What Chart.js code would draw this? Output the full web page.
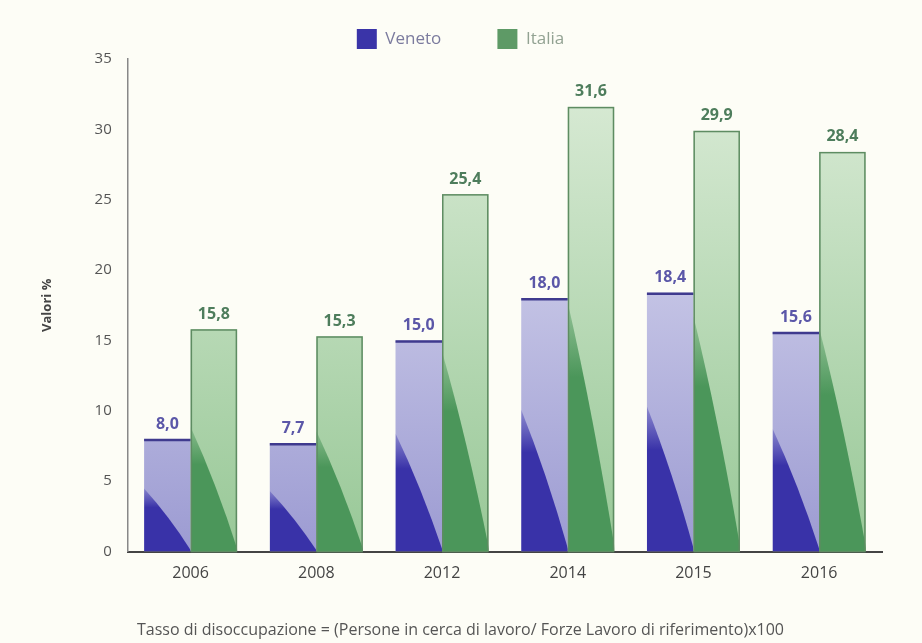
<!DOCTYPE html>
<html>
<head>
<meta charset="utf-8">
<script src="https://cdn.jsdelivr.net/npm/chart.js@4/dist/chart.umd.min.js"></script>
<style>
  html, body { margin: 0; padding: 0; background: #fdfdf6; }
  #wrap { width: 922px; height: 643px; }
</style>
</head>
<body>
<div id="wrap"><canvas id="c" width="922" height="643"></canvas></div>
<script>
// Tasso di disoccupazione giovanile, valori %
const years = ['2006', '2008', '2012', '2014', '2015', '2016'];
const veneto = [8.0, 7.7, 15.0, 18.0, 18.4, 15.6];
const italia = [15.8, 15.3, 25.4, 31.6, 29.9, 28.4];
const yTicks = [0, 5, 10, 15, 20, 25, 30, 35];

const FONT = '"Open Sans", "Noto Sans", sans-serif';

const palette = {
  veneto: { top: '#e6e6f5', bottom: '#9c9bd2', dark: '#3932a8', darkTop: 'rgba(70,64,178,0.35)', edge: '#3f3a8e', label: '#5b57a8' },
  italia: { top: '#dcecd8', bottom: '#98c897', dark: '#4b965a', darkTop: 'rgba(80,152,94,0.35)', edge: '#5e8c62', label: '#4e7d5c' }
};

function verticalFill(key) {
  return function (ctx) {
    const area = ctx.chart.chartArea;
    if (!area) return palette[key].bottom;
    const g = ctx.chart.ctx.createLinearGradient(0, area.top, 0, area.bottom);
    g.addColorStop(0, palette[key].top);
    g.addColorStop(1, palette[key].bottom);
    return g;
  };
}

// Shaded lower-left sweep, outlines and value labels on each bar
const barDecor = {
  id: 'barDecor',
  afterDatasetsDraw(chart) {
    const c = chart.ctx;
    chart.data.datasets.forEach((ds, di) => {
      const key = di === 0 ? 'veneto' : 'italia';
      const p = palette[key];
      chart.getDatasetMeta(di).data.forEach((bar, i) => {
        const w = bar.width;
        const left = bar.x - w / 2;
        const right = bar.x + w / 2;
        const top = bar.y;
        const base = bar.base;
        const h = base - top;
        const ry = h * 0.56;

        c.save();
        c.beginPath();
        c.rect(left, top, w, h);
        c.clip();
        const g = c.createLinearGradient(0, base - ry, 0, base);
        g.addColorStop(0, p.darkTop);
        g.addColorStop(0.3, p.dark);
        g.addColorStop(1, p.dark);
        c.fillStyle = g;
        c.beginPath();
        c.moveTo(left, base - ry);
        c.quadraticCurveTo(left + w * 0.55, base - ry * 0.55, right + 1, base);
        c.lineTo(left, base);
        c.closePath();
        c.fill();
        c.restore();

        c.save();
        c.strokeStyle = p.edge;
        if (key === 'veneto') {
          c.lineWidth = 2.5;
          c.beginPath();
          c.moveTo(left, top + 1);
          c.lineTo(right, top + 1);
          c.stroke();
        } else {
          c.lineWidth = 1.5;
          c.strokeRect(left + 0.75, top + 0.75, w - 1.5, h - 0.75);
        }
        c.fillStyle = p.label;
        c.font = 'bold 16px ' + FONT;
        c.textAlign = 'center';
        c.textBaseline = 'bottom';
        c.fillText(ds.data[i].toFixed(1).replace('.', ','), bar.x, top - 7);
        c.restore();
      });
    });
  }
};

new Chart(document.getElementById('c'), {
  type: 'bar',
  data: {
    labels: years,
    datasets: [
      { label: 'Veneto', data: veneto, backgroundColor: verticalFill('veneto'), borderWidth: 0 },
      { label: 'Italia', data: italia, backgroundColor: verticalFill('italia'), borderWidth: 0 }
    ]
  },
  options: {
    responsive: false,
    animation: false,
    devicePixelRatio: 1,
    layout: { padding: { left: 39, right: 40, top: 17, bottom: 3 } },
    datasets: { bar: { categoryPercentage: 0.74, barPercentage: 1.0 } },
    plugins: {
      tooltip: { enabled: false },
      legend: {
        position: 'top',
        labels: {
          font: { family: FONT, size: 17 },
          boxWidth: 20,
          boxHeight: 20,
          padding: 12,
          generateLabels() {
            return [
              { text: 'Veneto          ', fillStyle: '#3a34a8', strokeStyle: '#3a34a8', lineWidth: 0, datasetIndex: 0, fontColor: '#7b7b9e' },
              { text: 'Italia', fillStyle: '#5e9a66', strokeStyle: '#5e9a66', lineWidth: 0, datasetIndex: 1, fontColor: '#92a292' }
            ];
          }
        }
      },
      title: {
        display: true,
        position: 'bottom',
        text: 'Tasso di disoccupazione = (Persone in cerca di lavoro/ Forze Lavoro di riferimento)x100',
        font: { family: FONT, size: 16, weight: 'normal' },
        color: '#555',
        padding: { top: 26, bottom: 0 }
      }
    },
    scales: {
      x: {
        grid: { display: false, drawTicks: false },
        border: { display: true, color: '#444', width: 2 },
        ticks: { font: { family: FONT, size: 16 }, color: '#444', padding: 12 }
      },
      y: {
        min: 0,
        max: 35,
        afterBuildTicks(axis) { axis.ticks = yTicks.map(v => ({ value: v })); },
        grid: { display: false, drawOnChartArea: false, drawTicks: true, tickLength: 8, tickColor: '#888' },
        border: { display: true, color: '#888', width: 1.5 },
        ticks: { font: { family: FONT, size: 15 }, color: '#555', padding: 8 },
        title: { display: true, text: 'Valori %', font: { family: FONT, size: 13, weight: 'bold' }, color: '#444', padding: { top: 0, bottom: 32 } }
      }
    }
  },
  plugins: [barDecor]
});
</script>
</body>
</html>
